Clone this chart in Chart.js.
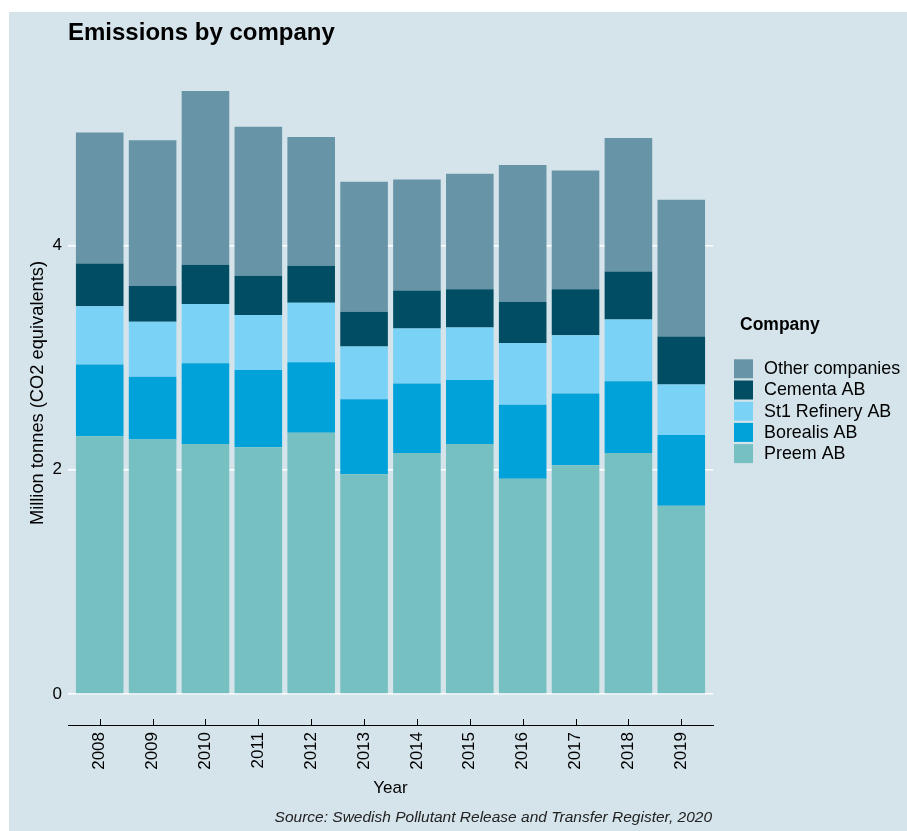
<!DOCTYPE html>
<html>
<head>
<meta charset="utf-8">
<script src="https://cdn.jsdelivr.net/npm/chart.js@4.4.1/dist/chart.umd.min.js"></script>
<style>
  html, body { margin: 0; padding: 0; background: #ffffff; }
  #wrap { position: absolute; left: 9px; top: 12px; width: 898px; height: 819px; background: #d5e4eb; }
</style>
</head>
<body>
<div id="wrap"><canvas id="c"></canvas></div>
<script>
const years = ['2008','2009','2010','2011','2012','2013','2014','2015','2016','2017','2018','2019'];
const preem    = [2.30, 2.27, 2.23, 2.20, 2.33, 1.96, 2.15, 2.23, 1.92, 2.04, 2.15, 1.68];
const borealis = [0.64, 0.56, 0.72, 0.69, 0.63, 0.67, 0.62, 0.57, 0.66, 0.64, 0.64, 0.63];
const st1      = [0.52, 0.49, 0.53, 0.49, 0.53, 0.47, 0.49, 0.47, 0.55, 0.52, 0.55, 0.45];
const cementa  = [0.38, 0.32, 0.35, 0.35, 0.33, 0.31, 0.34, 0.34, 0.37, 0.41, 0.43, 0.43];
const others   = [1.17, 1.30, 1.55, 1.33, 1.15, 1.16, 0.99, 1.03, 1.22, 1.06, 1.19, 1.22];
const yTicks = [0, 2, 4];

const seriesNames = ['Preem AB', 'Borealis AB', 'St1 Refinery AB', 'Cementa AB', 'Other companies'];
const seriesColors = ['#76c0c1', '#01a2d9', '#7ad2f6', '#014d64', '#6794a7'];
const seriesData = [preem, borealis, st1, cementa, others];

const FONT = "'Liberation Sans', Arial, sans-serif";

const datasets = seriesData.map((arr, k) => ({
  label: seriesNames[k],
  data: arr.map((v, i) => ({ x: i, y: v })),
  backgroundColor: seriesColors[k],
  borderWidth: 0,
  barPercentage: 0.9,
  categoryPercentage: 1.0
}));

const decor = {
  id: 'decor',
  afterDraw(chart) {
    const ctx = chart.ctx;
    const ca = chart.chartArea;
    const xs = chart.scales.x;
    ctx.save();
    // inward ticks on x axis
    ctx.strokeStyle = '#000';
    ctx.lineWidth = 1;
    years.forEach((y, i) => {
      const px = Math.round(xs.getPixelForValue(i)) + 0.5;
      ctx.beginPath();
      ctx.moveTo(px, ca.bottom);
      ctx.lineTo(px, ca.bottom - 6);
      ctx.stroke();
    });
    // title
    ctx.fillStyle = '#000';
    ctx.font = "bold 24px " + FONT;
    ctx.textAlign = 'left';
    ctx.textBaseline = 'alphabetic';
    ctx.fillText('Emissions by company', 59, 28);
    // x axis title
    ctx.font = "17px " + FONT;
    ctx.textAlign = 'center';
    ctx.textBaseline = 'middle';
    ctx.fillText('Year', (ca.left + ca.right) / 2, 776);
    // y axis title
    ctx.save();
    ctx.translate(29, (ca.top + ca.bottom) / 2);
    ctx.rotate(-Math.PI / 2);
    ctx.font = "18.3px " + FONT;
    ctx.textAlign = 'center';
    ctx.textBaseline = 'middle';
    ctx.fillText('Million tonnes (CO2 equivalents)', 0, 0);
    ctx.restore();
    // caption
    ctx.font = "italic 15.5px " + FONT;
    ctx.textAlign = 'right';
    ctx.textBaseline = 'middle';
    ctx.fillStyle = '#222';
    ctx.fillText('Source: Swedish Pollutant Release and Transfer Register, 2020', 703, 806);
    // legend
    ctx.fillStyle = '#000';
    ctx.font = "bold 17.5px " + FONT;
    ctx.textAlign = 'left';
    ctx.fillText('Company', 731, 313);
    ctx.font = "17.9px " + FONT;
    for (let r = 0; r < seriesNames.length; r++) {
      const k = seriesNames.length - 1 - r;
      const top = 347.3 + r * 21.2;
      ctx.fillStyle = seriesColors[k];
      ctx.fillRect(725, top, 19, 19);
      ctx.fillStyle = '#000';
      ctx.fillText(seriesNames[k], 755, top + 10);
    }
    ctx.restore();
  }
};

new Chart(document.getElementById('c'), {
  type: 'bar',
  data: { datasets },
  options: {
    responsive: true,
    maintainAspectRatio: false,
    animation: false,
    layout: { padding: { left: 0, top: 49, right: 194, bottom: 0 } },
    plugins: { legend: { display: false }, title: { display: false }, tooltip: { enabled: false } },
    scales: {
      x: {
        type: 'linear',
        stacked: true,
        offset: false,
        min: -0.6,
        max: 11.6,
        afterFit(s) { s.height = 106; },
        afterBuildTicks(s) { s.ticks = years.map((y, i) => ({ value: i })); },
        grid: { display: true, drawOnChartArea: false, drawTicks: false },
        border: { display: true, color: '#000', width: 1 },
        ticks: {
          autoSkip: false,
          minRotation: 90,
          maxRotation: 90,
          padding: 7,
          color: '#000',
          font: { family: FONT, size: 17 },
          callback: (v) => years[v]
        }
      },
      y: {
        stacked: true,
        min: -0.277,
        max: 5.647,
        afterFit(s) { s.width = 59; },
        afterBuildTicks(s) { s.ticks = yTicks.map(v => ({ value: v })); },
        grid: { color: '#ffffff', lineWidth: 1.5, drawTicks: false },
        border: { display: false },
        ticks: {
          padding: 6,
          color: '#000',
          font: { family: FONT, size: 17 },
          callback: (v) => String(v)
        }
      }
    }
  },
  plugins: [decor]
});
</script>
</body>
</html>
